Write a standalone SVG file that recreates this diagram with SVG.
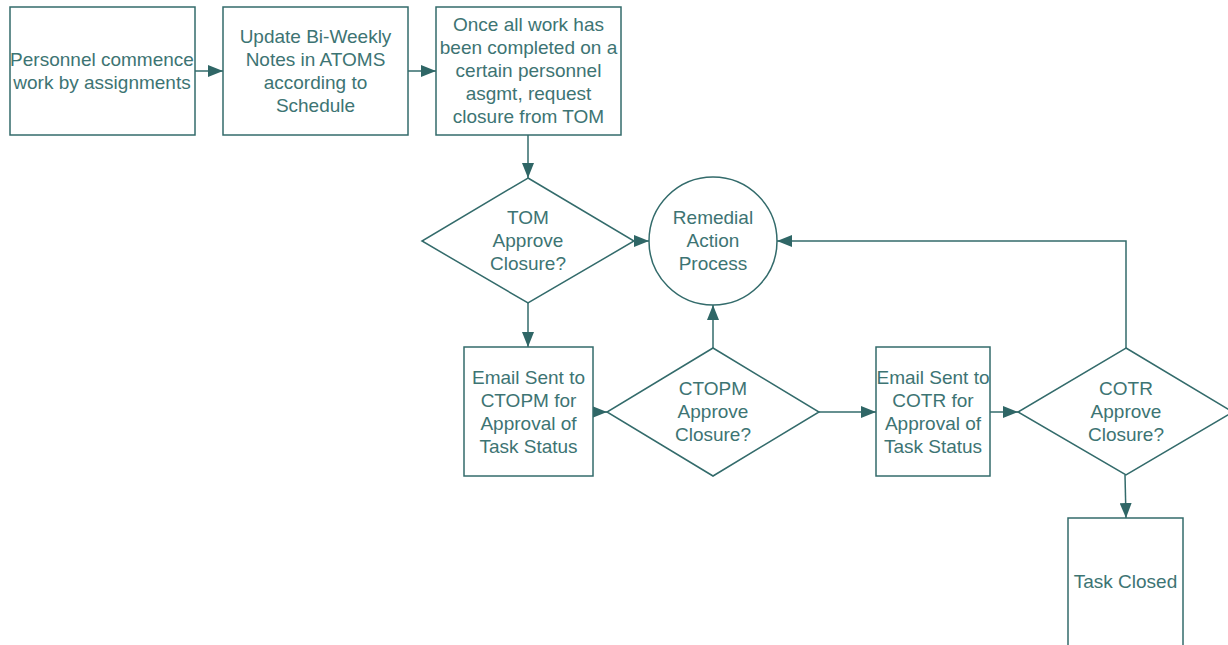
<svg xmlns="http://www.w3.org/2000/svg" width="1228" height="645" viewBox="0 0 1228 645">
<defs>
<style>
.n{fill:#ffffff;stroke:#336b6b;stroke-width:1.5}
.c{fill:none;stroke:#336b6b;stroke-width:1.5}
text{font-family:"Liberation Sans",Arial,sans-serif;font-size:19px;fill:#3d7473;text-anchor:middle}
</style>
<marker id="ah" viewBox="0 0 15 12" refX="15" refY="6" markerWidth="15" markerHeight="12" markerUnits="userSpaceOnUse" orient="auto">
<path d="M0,0 L15,6 L0,12 Z" fill="#2f6666"/>
</marker>
</defs>
<rect width="1228" height="645" fill="#ffffff"/>
<g id="connectors">
<line class="c" x1="195" y1="71" x2="223" y2="71" marker-end="url(#ah)"/>
<line class="c" x1="408" y1="71" x2="436" y2="71" marker-end="url(#ah)"/>
<line class="c" x1="528" y1="135" x2="528" y2="178" marker-end="url(#ah)"/>
<line class="c" x1="634" y1="241" x2="649" y2="241" marker-end="url(#ah)"/>
<line class="c" x1="528" y1="303" x2="528" y2="347" marker-end="url(#ah)"/>
<line class="c" x1="593" y1="412" x2="607" y2="412" marker-end="url(#ah)"/>
<line class="c" x1="713" y1="348" x2="713" y2="305" marker-end="url(#ah)"/>
<line class="c" x1="819" y1="412" x2="876" y2="412" marker-end="url(#ah)"/>
<line class="c" x1="990" y1="412" x2="1018" y2="412" marker-end="url(#ah)"/>
<polyline class="c" points="1126,348 1126,241 777,241" marker-end="url(#ah)"/>
<line class="c" x1="1125" y1="475" x2="1126" y2="518" marker-end="url(#ah)"/>
</g>
<g id="n1">
<rect class="n" x="10" y="7" width="185" height="128"/>
<text x="102" y="66">Personnel commence</text>
<text x="102" y="89">work by assignments</text>
</g>
<g id="n2">
<rect class="n" x="223" y="7" width="185" height="128"/>
<text x="315.5" y="43">Update Bi-Weekly</text>
<text x="315.5" y="66">Notes in ATOMS</text>
<text x="315.5" y="89">according to</text>
<text x="315.5" y="112">Schedule</text>
</g>
<g id="n3">
<rect class="n" x="436" y="7" width="185" height="128"/>
<text x="528.5" y="31">Once all work has</text>
<text x="528.5" y="54">been completed on a</text>
<text x="528.5" y="77">certain personnel</text>
<text x="528.5" y="100">asgmt, request</text>
<text x="528.5" y="123">closure from TOM</text>
</g>
<g id="tom">
<polygon class="n" points="528,178 634,241 528,303 422,241"/>
<text x="528" y="224">TOM</text>
<text x="528" y="247">Approve</text>
<text x="528" y="270">Closure?</text>
</g>
<g id="remedial">
<circle class="n" cx="713" cy="241" r="64"/>
<text x="713" y="224">Remedial</text>
<text x="713" y="247">Action</text>
<text x="713" y="270">Process</text>
</g>
<g id="email-ctopm">
<rect class="n" x="464" y="347" width="129" height="129"/>
<text x="528.5" y="384">Email Sent to</text>
<text x="528.5" y="407">CTOPM for</text>
<text x="528.5" y="430">Approval of</text>
<text x="528.5" y="453">Task Status</text>
</g>
<g id="ctopm">
<polygon class="n" points="713,348 819,412 713,476 607,412"/>
<text x="713" y="395">CTOPM</text>
<text x="713" y="418">Approve</text>
<text x="713" y="441">Closure?</text>
</g>
<g id="email-cotr">
<rect class="n" x="876" y="347" width="114" height="129"/>
<text x="933" y="384">Email Sent to</text>
<text x="933" y="407">COTR for</text>
<text x="933" y="430">Approval of</text>
<text x="933" y="453">Task Status</text>
</g>
<g id="cotr">
<polygon class="n" points="1126,348 1233,412 1126,475 1018,412"/>
<text x="1126" y="395">COTR</text>
<text x="1126" y="418">Approve</text>
<text x="1126" y="441">Closure?</text>
</g>
<g id="closed">
<rect class="n" x="1068" y="518" width="115" height="140"/>
<text x="1125.5" y="588">Task Closed</text>
</g>
</svg>
